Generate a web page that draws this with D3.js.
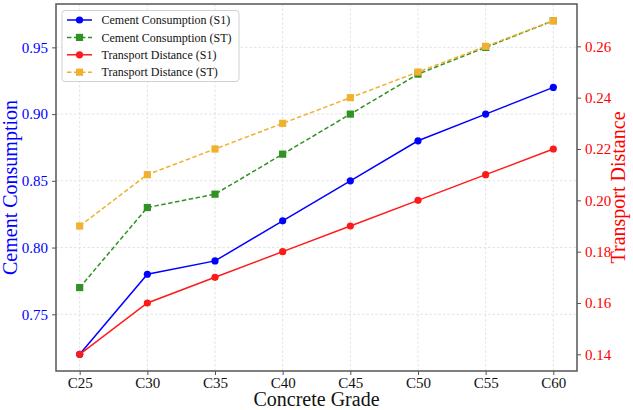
<!DOCTYPE html>
<html>
<head>
<meta charset="utf-8">
<script src="https://cdn.jsdelivr.net/npm/d3@7"></script>
<style>
  body { margin: 0; background: #fff; }
  svg { display: block; }
  svg text { font-family: "Liberation Serif", "Times New Roman", serif !important; }
</style>
</head>
<body>
<svg id="chart" width="633" height="410"></svg>
<script>
var grades = ["C25", "C30", "C35", "C40", "C45", "C50", "C55", "C60"];
var cement_s1 = [0.72, 0.78, 0.79, 0.82, 0.85, 0.88, 0.90, 0.92];
var cement_st = [0.77, 0.83, 0.84, 0.87, 0.90, 0.93, 0.95, 0.97];
var transport_s1 = [0.14, 0.16, 0.17, 0.18, 0.19, 0.20, 0.21, 0.22];
var transport_st = [0.19, 0.21, 0.22, 0.23, 0.24, 0.25, 0.26, 0.27];
var left_ticks = [0.75, 0.80, 0.85, 0.90, 0.95];
var right_ticks = [0.14, 0.16, 0.18, 0.20, 0.22, 0.24, 0.26];

var svg = d3.select("#chart");
var plot = { left: 56, right: 577, top: 4, bottom: 371 };
var axisColor = "#555";

// matplotlib-like 5% padding on each axis
function padded(vals) {
    var lo = d3.min(vals), hi = d3.max(vals), m = (hi - lo) * 0.05;
    return [lo - m, hi + m];
}

var x = d3.scalePoint().domain(grades)
    .range([plot.left, plot.right]).padding(0.35);
var yL = d3.scaleLinear().domain(padded(cement_s1.concat(cement_st)))
    .range([plot.bottom, plot.top]);
var yR = d3.scaleLinear().domain(padded(transport_s1.concat(transport_st)))
    .range([plot.bottom, plot.top]);

// grid
var grid = svg.append("g").attr("stroke", "#dcdcdc").attr("stroke-width", 0.8)
    .attr("stroke-dasharray", "2.5,2");
grades.forEach(function (g) {
    grid.append("line").attr("x1", x(g)).attr("x2", x(g))
        .attr("y1", plot.top).attr("y2", plot.bottom);
});
left_ticks.forEach(function (t) {
    grid.append("line").attr("x1", plot.left).attr("x2", plot.right)
        .attr("y1", yL(t)).attr("y2", yL(t));
});

// axes
function styleAxis(g, color) {
    g.attr("font-size", 15);
    g.selectAll(".domain").remove();
    g.selectAll(".tick line").attr("stroke", axisColor).attr("stroke-width", 1);
    g.selectAll(".tick text").attr("fill", color);
}

var gx = svg.append("g").attr("transform", "translate(0," + plot.bottom + ")")
    .call(d3.axisBottom(x).tickSize(4).tickPadding(2));
styleAxis(gx, "#111");

var gl = svg.append("g").attr("transform", "translate(" + plot.left + ",0)")
    .call(d3.axisLeft(yL).tickValues(left_ticks).tickFormat(d3.format(".2f")).tickSize(4).tickPadding(4));
styleAxis(gl, "#0000ff");

var gr = svg.append("g").attr("transform", "translate(" + plot.right + ",0)")
    .call(d3.axisRight(yR).tickValues(right_ticks).tickFormat(d3.format(".2f")).tickSize(4).tickPadding(4));
styleAxis(gr, "#ff0000");

svg.append("rect").attr("x", plot.left).attr("y", plot.top)
    .attr("width", plot.right - plot.left).attr("height", plot.bottom - plot.top)
    .attr("fill", "none").attr("stroke", axisColor).attr("stroke-width", 1.5);

// axis titles
svg.append("text").attr("x", (plot.left + plot.right) / 2).attr("y", 405.5)
    .attr("text-anchor", "middle").style("font-size", "20px").attr("fill", "#111")
    .text("Concrete Grade");
svg.append("text").attr("transform", "translate(16.5," + (plot.top + plot.bottom) / 2 + ") rotate(-90)")
    .attr("text-anchor", "middle").style("font-size", "20px").attr("fill", "#0000ff")
    .text("Cement Consumption");
svg.append("text").attr("transform", "translate(625," + (plot.top + plot.bottom) / 2 + ") rotate(-90)")
    .attr("text-anchor", "middle").style("font-size", "20px").attr("fill", "#ff0000")
    .text("Transport Distance");

// series
var series = [
    { name: "Cement Consumption (S1)", values: cement_s1, y: yL, color: "#0000ff", dash: null, marker: "circle" },
    { name: "Cement Consumption (ST)", values: cement_st, y: yL, color: "#2f9222", dash: "4.5,2.5", marker: "square" },
    { name: "Transport Distance (S1)", values: transport_s1, y: yR, color: "#ff1a1a", dash: null, marker: "circle" },
    { name: "Transport Distance (ST)", values: transport_st, y: yR, color: "#f0b030", dash: "4.5,2.5", marker: "square" }
];

function drawMarker(g, type, cx, cy, color) {
    if (type === "circle") {
        g.append("circle").attr("cx", cx).attr("cy", cy).attr("r", 3.6).attr("fill", color);
    } else {
        g.append("rect").attr("x", cx - 3.6).attr("y", cy - 3.6)
            .attr("width", 7.2).attr("height", 7.2).attr("fill", color);
    }
}

series.forEach(function (s) {
    var line = d3.line()
        .x(function (d, i) { return x(grades[i]); })
        .y(function (d) { return s.y(d); });
    var g = svg.append("g");
    g.append("path").attr("d", line(s.values))
        .attr("fill", "none").attr("stroke", s.color).attr("stroke-width", 1.5)
        .attr("stroke-dasharray", s.dash);
    s.values.forEach(function (v, i) {
        drawMarker(g, s.marker, x(grades[i]), s.y(v), s.color);
    });
});

// legend
var leg = svg.append("g");
leg.append("rect").attr("x", 62).attr("y", 10.5).attr("width", 177).attr("height", 71)
    .attr("rx", 3).attr("fill", "#fff").attr("fill-opacity", 0.85)
    .attr("stroke", "#d0d0d0").attr("stroke-width", 1);
series.forEach(function (s, i) {
    var yy = 20 + i * 17.4;
    leg.append("line").attr("x1", 67).attr("x2", 92).attr("y1", yy).attr("y2", yy)
        .attr("stroke", s.color).attr("stroke-width", 1.5).attr("stroke-dasharray", s.dash);
    drawMarker(leg, s.marker, 79.5, yy, s.color);
    leg.append("text").attr("x", 101.5).attr("y", yy + 4.2)
        .style("font-size", "12px").attr("fill", "#111").text(s.name);
});
</script>
</body>
</html>
